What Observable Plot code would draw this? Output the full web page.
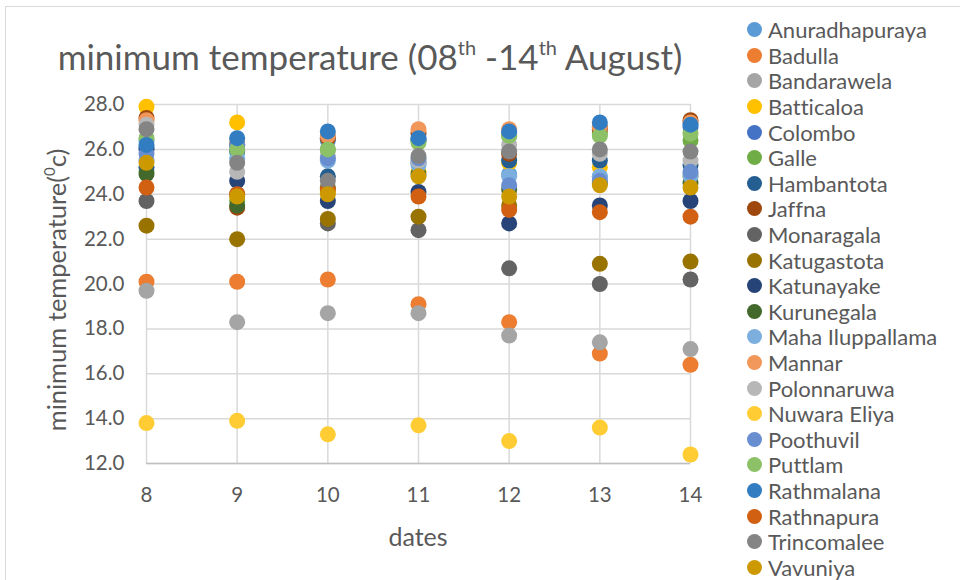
<!DOCTYPE html>
<html><head><meta charset="utf-8">
<script src="https://cdn.jsdelivr.net/npm/d3@7"></script>
<script src="https://cdn.jsdelivr.net/npm/@observablehq/plot@0.6"></script>
<style>
body{margin:0;background:#fff;}
#wrap{position:relative;width:960px;height:580px;overflow:hidden;font-family:Lato, "Open Sans", sans-serif;color:#595959;font-variant-ligatures:none;}
#frame{position:absolute;left:5px;top:6px;width:1000px;height:620px;border:1px solid #d9d9d9;box-sizing:border-box;}
#title{position:absolute;left:0;width:740px;top:35px;text-align:center;font-size:35px;white-space:nowrap;}
#title sup{font-size:20px;vertical-align:15px;line-height:0;}
#legend{position:absolute;left:747px;top:17px;}
.item{display:flex;align-items:center;height:25.6px;font-size:22px;white-space:nowrap;}
.sw{width:15px;height:15px;border-radius:50%;margin-right:6px;flex:none;}
#chart{position:absolute;left:0;top:0;}
#ylab{position:absolute;left:56px;top:290px;transform:translate(-50%,-50%) rotate(-90deg);font-size:25.5px;white-space:nowrap;}
#ylab sup{font-size:15px;vertical-align:11px;line-height:0;}
#xlab{position:absolute;left:418px;top:536px;transform:translate(-50%,-50%);font-size:25px;}
</style></head>
<body>
<div id="wrap">
  <div id="frame"></div>
  <div id="chart"></div>
  <div id="title">minimum temperature (08<sup>th</sup> -14<sup>th</sup> August)</div>
  <div id="ylab">minimum temperature(<sup>0</sup>c)</div>
  <div id="xlab">dates</div>
  <div id="legend"></div>
</div>
<script>
const dates = [8, 9, 10, 11, 12, 13, 14];
const yTicks = [12, 14, 16, 18, 20, 22, 24, 26, 28];
const stations = ["Anuradhapuraya","Badulla","Bandarawela","Batticaloa","Colombo","Galle","Hambantota","Jaffna","Monaragala","Katugastota","Katunayake","Kurunegala","Maha Iluppallama","Mannar","Polonnaruwa","Nuwara Eliya","Poothuvil","Puttlam","Rathmalana","Rathnapura","Trincomalee","Vavuniya"];
const colors = ["#5B9BD5","#ED7D31","#A5A5A5","#FFC000","#4472C4","#70AD47","#255E91","#9E480E","#636363","#997300","#264478","#43682B","#7CAFDD","#F1975A","#B7B7B7","#FFCD33","#698ED0","#8CC168","#327DC2","#D26012","#848484","#CC9A00"];
// minimum temperature per station, dates 8..14
const minTemps = [
  [26.4, 26.2, 26.4, 26.5, 24.9, 24.8, 24.9], // Anuradhapuraya
  [20.1, 20.1, 20.2, 19.1, 18.3, 16.9, 16.4], // Badulla
  [19.7, 18.3, 18.7, 18.7, 17.7, 17.4, 17.1], // Bandarawela
  [27.9, 27.2, 24.1, 25.0, 25.4, 25.2, 24.8], // Batticaloa
  [26.1, 26.2, 26.5, 26.4, 26.7, 27.0, 27.0], // Colombo
  [25.0, 23.7, 26.0, 26.4, 26.6, 26.7, 26.4], // Galle
  [25.2, 25.9, 24.8, 25.4, 25.5, 25.5, 25.3], // Hambantota
  [27.4, 23.4, 26.5, 26.7, 25.8, 26.9, 27.3], // Jaffna
  [23.7, 24.0, 22.7, 22.4, 20.7, 20.0, 20.2], // Monaragala
  [22.6, 22.0, 22.9, 23.0, 23.5, 20.9, 21.0], // Katugastota
  [26.0, 24.6, 23.7, 24.1, 22.7, 23.5, 23.7], // Katunayake
  [24.9, 23.5, 24.3, 24.9, 24.2, 24.5, 24.5], // Kurunegala
  [25.5, 25.6, 25.5, 25.3, 24.8, 24.8, 24.8], // Maha Iluppallama
  [27.3, 26.3, 26.6, 26.9, 26.9, 27.0, 27.2], // Mannar
  [27.1, 25.0, 25.7, 25.5, 26.2, 25.8, 25.5], // Polonnaruwa
  [13.8, 13.9, 13.3, 13.7, 13.0, 13.6, 12.4], // Nuwara Eliya
  [25.8, 26.2, 25.6, 25.6, 24.4, 24.6, 25.0], // Poothuvil
  [26.5, 26.0, 26.0, 26.3, 26.6, 26.6, 26.7], // Puttlam
  [26.2, 26.5, 26.8, 26.5, 26.8, 27.2, 27.1], // Rathmalana
  [24.3, 24.0, 24.2, 23.9, 23.3, 23.2, 23.0], // Rathnapura
  [26.9, 25.4, 24.6, 25.7, 25.9, 26.0, 25.9], // Trincomalee
  [25.4, 23.9, 24.0, 24.8, 23.9, 24.4, 24.3]  // Vavuniya
];

const data = stations.flatMap((s, i) => dates.map((d, j) => ({station: s, date: d, temp: minTemps[i][j]})));

const chart = Plot.plot({
  width: 960,
  height: 580,
  marginLeft: 146,
  marginRight: 270,
  marginTop: 104,
  marginBottom: 117,
  style: {fontFamily: "Lato, 'Open Sans', sans-serif", fontSize: "20.5px", color: "#595959", background: "transparent"},
  x: {domain: [8, 14], label: null},
  y: {domain: [12, 28], label: null},
  color: {domain: stations, range: colors},
  marks: [
    Plot.gridX(dates, {stroke: "#d9d9d9", strokeOpacity: 1, strokeWidth: 1.5}),
    Plot.gridY(yTicks, {stroke: "#d9d9d9", strokeOpacity: 1, strokeWidth: 1.5}),
    Plot.ruleY([12], {stroke: "#bfbfbf", strokeWidth: 1.5}),
    Plot.axisX(dates, {tickSize: 0, tickPadding: 24, tickFormat: d => String(d), label: null, fill: "#595959"}),
    Plot.axisY(yTicks, {tickSize: 0, tickPadding: 22, tickFormat: d => d.toFixed(1), label: null, fill: "#595959"}),
    Plot.dot(data, {x: "date", y: "temp", fill: "station", r: 8})
  ]
});
document.getElementById("chart").appendChild(chart);

const legend = document.getElementById("legend");
stations.forEach((s, i) => {
  const it = document.createElement("div");
  it.className = "item";
  const sw = document.createElement("span");
  sw.className = "sw";
  sw.style.background = colors[i];
  it.appendChild(sw);
  it.appendChild(document.createTextNode(s));
  legend.appendChild(it);
});
</script>
</body></html>
